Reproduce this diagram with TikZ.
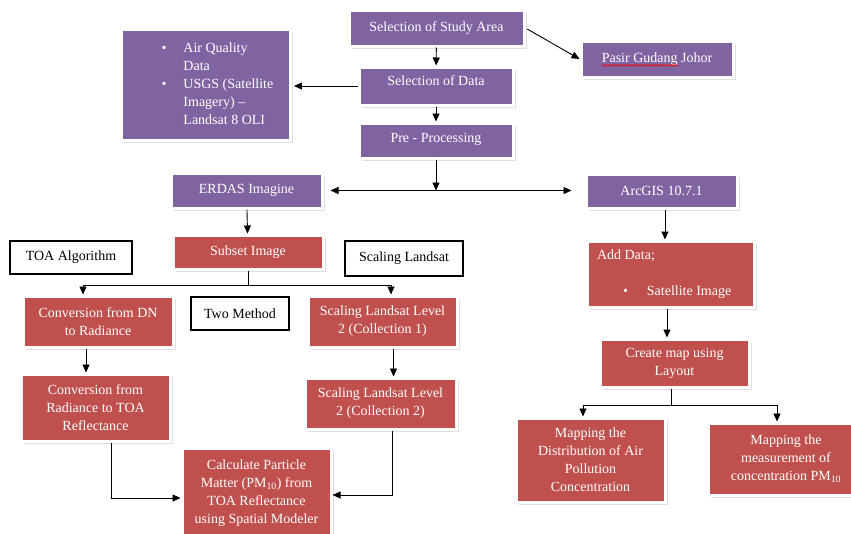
\documentclass[tikz,border=0pt]{standalone}
\usepackage{fontspec}
\setmainfont{Liberation Serif}
\usepackage{xcolor}
\usetikzlibrary{arrows.meta, positioning, shadows, decorations.pathmorphing, calc}

\definecolor{boxpurple}{HTML}{8064A2}
\definecolor{boxred}{HTML}{C0504D}
\newcommand{\boxfont}{\fontsize{14}{18}\selectfont}

\begin{document}
\begin{tikzpicture}[
    x=1pt, y=-1pt,
    purplebox/.style={draw=white, fill=boxpurple, text=white, line width=3pt, rectangle, inner sep=0pt, align=center, font=\boxfont, drop shadow={shadow xshift=2.5pt, shadow yshift=-2.5pt, opacity=0.25}},
    redbox/.style={purplebox, fill=boxred},
    plainbox/.style={draw=black, fill=white, line width=2.2pt, rectangle, inner sep=0pt, align=center, font=\boxfont},
    arrowline/.style={draw, ->, >={Triangle[length=8pt, width=7pt]}, line width=0.9pt},
    plainline/.style={draw, line width=0.9pt},
    spell/.style={draw=red, line width=0.6pt, decorate, decoration={snake, amplitude=0.8pt, segment length=3pt}}
]
    \clip (0,0) rectangle (851,533);
    \fill[white] (0,0) rectangle (851,533);

    % Study area and data
    \node[purplebox, minimum width=175pt, minimum height=36pt] (study) at (436.5,28) {Selection of Study Area};
    \node[purplebox, minimum width=152pt, minimum height=36pt] (pasir) at (657,59) {Pasir Gudang Johor};
    \node[purplebox, minimum width=168pt, minimum height=111pt] (airq) at (206,84.5) {\begin{tabular}{@{\hspace{40pt}}c@{\hspace{17pt}}p{100pt}@{\hspace{7pt}}}\textbullet & Air Quality\\ & Data\\ \textbullet & USGS (Satellite\\ & Imagery) –\\ & Landsat 8 OLI\end{tabular}};
    \node[purplebox, minimum width=154pt, minimum height=38pt, text depth=10pt] (seldata) at (436,86) {Selection of Data};
    \node[purplebox, minimum width=154pt, minimum height=35pt, text depth=6pt] (prep) at (436,140.5) {Pre - Processing};

    % Software
    \node[purplebox, minimum width=151pt, minimum height=35pt] (erdas) at (246.5,190.5) {ERDAS Imagine};
    \node[purplebox, minimum width=151pt, minimum height=34pt] (arcgis) at (661.5,191) {ArcGIS 10.7.1};

    % ERDAS branch
    \node[redbox, minimum width=150pt, minimum height=34pt] (subset) at (248,252) {Subset Image};
    \node[plainbox, minimum width=122pt, minimum height=33pt] (toa) at (71,257.5) {TOA Algorithm};
    \node[plainbox, minimum width=118pt, minimum height=35pt] (scaling) at (404,258.5) {Scaling Landsat};
    \node[redbox, minimum width=150pt, minimum height=51pt] (convdn) at (98,321.5) {Conversion from DN\\to Radiance};
    \node[plainbox, minimum width=98pt, minimum height=33pt] (twomethod) at (240,313.5) {Two Method};
    \node[redbox, minimum width=149pt, minimum height=51pt] (scalone) at (382.5,321.5) {Scaling Landsat Level\\2 (Collection 1)};
    \node[redbox, minimum width=149pt, minimum height=67pt] (convrad) at (95.5,407.5) {Conversion from\\Radiance to TOA\\Reflectance};
    \node[redbox, minimum width=151pt, minimum height=51pt] (scaltwo) at (380.5,403.5) {Scaling Landsat Level\\2 (Collection 2)};
    \node[redbox, minimum width=149pt, minimum height=89pt] (calc) at (256.5,493) {Calculate Particle\\Matter (PM\textsubscript{10}) from\\TOA Reflectance\\using Spatial Modeler};

    % ArcGIS branch
    \node[redbox, minimum width=167pt, minimum height=66pt] (adddata) at (670.5,274) {\begin{tabular}{@{}p{147pt}@{}}Add Data;\\[18pt]\hspace*{26pt}\textbullet\hspace{19pt}Satellite Image\end{tabular}};
    \node[redbox, minimum width=149pt, minimum height=48pt] (createmap) at (674.5,363) {Create map using\\Layout};
    \node[redbox, minimum width=149pt, minimum height=84pt] (mapdist) at (590.5,460) {Mapping the\\Distribution of Air\\Pollution\\Concentration};
    \node[redbox, minimum width=156pt, minimum height=72pt] (mapmeas) at (786,459) {Mapping the\\measurement of\\concentration PM\textsubscript{10}};

    \draw[spell] ([xshift=-55pt, yshift=-3pt]pasir.base) -- ([xshift=21pt, yshift=-3pt]pasir.base);

    % Top flow
    \draw[arrowline] (study) -- (seldata);
    \draw[arrowline, shorten <=2pt] (study.east) -- (pasir.west);
    \draw[arrowline, shorten >=2pt] (seldata.west) -- (seldata.west -| airq.east);
    \draw[arrowline] (seldata) -- (prep);
    \draw[arrowline] (prep.south) -- (prep.south |- erdas.east);
    \draw[arrowline, <->, shorten <=7pt, shorten >=13pt] (erdas.east) -- (erdas.east -| arcgis.west);

    % ERDAS flow
    \draw[arrowline] (erdas) -- (subset);
    \coordinate (subsetjoin) at ($(subset.south)+(0,15)$);
    \draw[arrowline] (subset.south) -- (subsetjoin) -| ([xshift=-15pt]convdn.north);
    \draw[arrowline] (subsetjoin) -| ([xshift=8.5pt]scalone.north);
    \draw[arrowline] ([xshift=-12pt]convdn.south) -- ([xshift=-12pt]convdn.south |- convrad.north);
    \draw[arrowline] ([xshift=11pt]scalone.south) -- ([xshift=11pt]scalone.south |- scaltwo.north);
    \draw[arrowline] ([xshift=16pt]convrad.south) |- ([yshift=-5pt]calc.west);
    \draw[arrowline] ([xshift=11.5pt]scaltwo.south) |- ([yshift=-2pt]calc.east);

    % ArcGIS flow
    \draw[arrowline] ([xshift=3.5pt]arcgis.south) -- ([xshift=3.5pt]arcgis.south |- adddata.north);
    \draw[arrowline] ([xshift=-3.5pt]adddata.south) -- ([xshift=-3.5pt]adddata.south |- createmap.north);
    \coordinate (mapjoin) at ($([xshift=-3.5pt]createmap.south)+(0,17)$);
    \draw[plainline] ([xshift=-3.5pt]createmap.south) -- (mapjoin);
    \draw[arrowline] (mapjoin) -| ([xshift=-7.5pt]mapdist.north);
    \draw[arrowline] (mapjoin) -| ([xshift=-9pt]mapmeas.north);
\end{tikzpicture}
\end{document}
